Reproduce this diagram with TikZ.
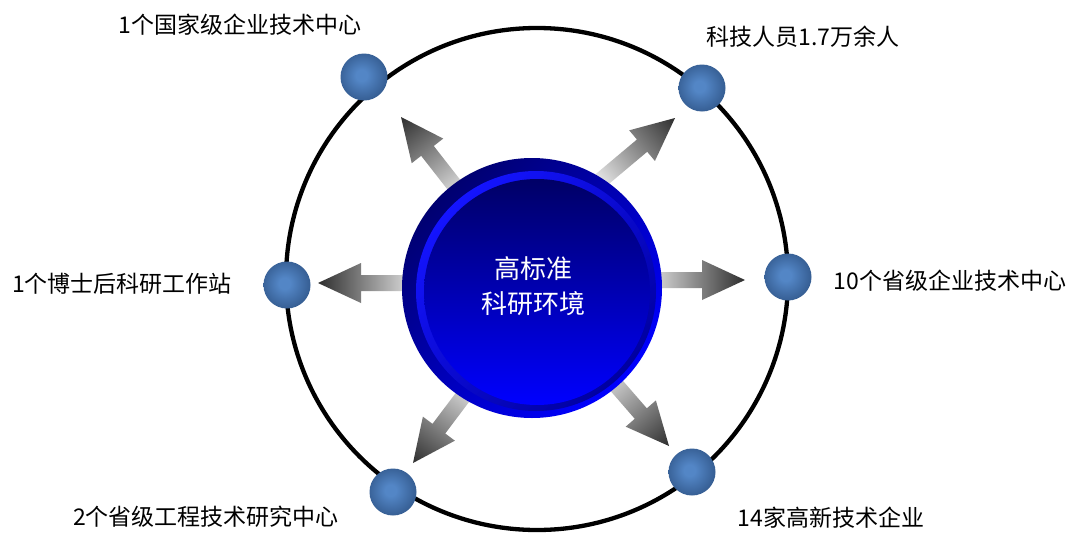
\documentclass[tikz,border=0pt]{standalone}
\usepackage{fontspec}
\newfontfamily\cjk{Noto Sans CJK SC}
\definecolor{ballhi}{HTML}{5386C6}
\definecolor{ballmid}{HTML}{335A8E}
\definecolor{balllo}{HTML}{213E67}
\definecolor{navyA}{HTML}{000070}
\definecolor{blueA}{HTML}{0000FF}
\definecolor{ringT}{HTML}{1414FF}
\definecolor{ringB}{HTML}{0000A0}
\definecolor{innT}{HTML}{000066}
\definecolor{innM}{HTML}{0000B4}
\definecolor{innB}{HTML}{0000FF}
\pgfdeclareradialshading{ballshade}{\pgfpoint{-3bp}{2bp}}{color(0bp)=(ballhi); color(6bp)=(ballhi); color(28bp)=(ballmid); color(35bp)=(balllo); color(50bp)=(balllo)}
\tikzset{
  lbl/.style={font=\cjk\fontsize{23}{26}\selectfont, text=black, inner sep=0pt},
  ball/.style={circle, minimum size=47pt, inner sep=0pt, shading=ballshade},
  garrow/.style={left color=white, right color=black!82},
  orbit/.style={draw=black, line width=4.3pt},
}
\newcommand\grarrow[2]{%
  \begin{scope}[transform canvas={shift={(#1)},rotate=#2}]
    \shade[garrow] (0,0) -- (-43,-20) -- (-43,-8) -- (-112,-8) -- (-112,8) -- (-43,8) -- (-43,20) -- cycle;
  \end{scope}}
\begin{document}
\begin{tikzpicture}[x=1pt,y=-1pt]
\useasboundingbox (0,0) rectangle (1072,533);
\fill[white] (0,0) rectangle (1072,533);
% orbit
\node[circle, minimum size=502pt, inner sep=0pt, orbit] (orbit) at (537,279) {};
% arrow tips
\coordinate (tipR) at (745,280);
\coordinate (tipL) at (318,283);
\coordinate (tipTL) at (401,117);
\coordinate (tipTR) at (675,118);
\coordinate (tipBL) at (413,463);
\coordinate (tipBR) at (669,446);
\grarrow{tipR}{0}
\grarrow{tipL}{180}
\grarrow{tipTL}{128}
\grarrow{tipTR}{40}
\grarrow{tipBL}{233}
\grarrow{tipBR}{-49}
% central disk
\shade[top color=navyA, bottom color=blueA, shading angle=45] (532,288) circle[radius=130];
\shade[top color=ringT, bottom color=ringB, shading angle=45] (536,291) circle[radius=120];
\shade[top color=innT, middle color=innM, bottom color=innB] (537,292) circle[radius=113];
\node[font=\cjk\fontsize{26}{35}\selectfont, text=white, align=center, inner sep=0pt] (core) at (533,286) {高标准\\科研环境};
% balls
\node[ball] (bTL) at (364,77) {};
\node[ball] (bTR) at (702,88) {};
\node[ball] (bL) at (287,285) {};
\node[ball] (bR) at (788,277) {};
\node[ball] (bBL) at (393,492) {};
\node[ball] (bBR) at (692,472) {};
% labels
\node[lbl] (tTL) at (240,25) {1个国家级企业技术中心};
\node[lbl] (tTR) at (803,37) {科技人员1.7万余人};
\node[lbl] (tL) at (122,284) {1个博士后科研工作站};
\node[lbl] (tR) at (950,281) {10个省级企业技术中心};
\node[lbl] (tBL) at (206,517) {2个省级工程技术研究中心};
\node[lbl] (tBR) at (831,518) {14家高新技术企业};
\end{tikzpicture}
\end{document}
